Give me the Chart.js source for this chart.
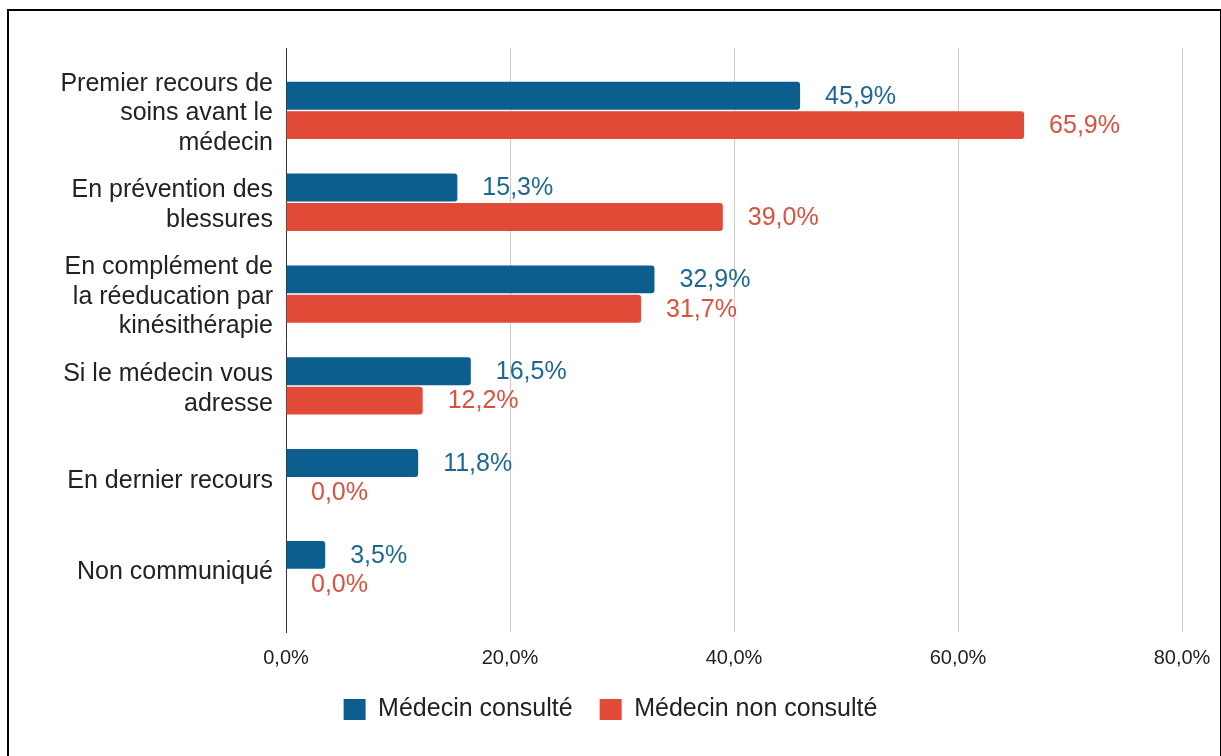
<!DOCTYPE html>
<html>
<head>
<meta charset="utf-8">
<script src="https://cdn.jsdelivr.net/npm/chart.js@4.4.1/dist/chart.umd.min.js"></script>
<style>
  html, body { margin: 0; padding: 0; background: #fff; }
  #wrap { position: relative; width: 1221px; height: 756px; overflow: hidden; }
  #frame { position: absolute; left: 7px; top: 9px; width: 1211px; height: 800px; border: 2px solid #000; }
  canvas { position: absolute; left: 0; top: 0; }
</style>
</head>
<body>
<div id="wrap">
  <div id="frame"></div>
  <canvas id="chart" width="1221" height="756"></canvas>
</div>
<script>
// ── Data ──────────────────────────────────────────────
const categories = [
    ['Premier recours de', 'soins avant le', 'médecin'],
    ['En prévention des', 'blessures'],
    ['En complément de', 'la réeducation par', 'kinésithérapie'],
    ['Si le médecin vous', 'adresse'],
    'En dernier recours',
    'Non communiqué'
];
const seriesNames = ['Médecin consulté', 'Médecin non consulté'];
const consulte    = [45.9, 15.3, 32.9, 16.5, 11.8, 3.5];
const nonConsulte = [65.9, 39.0, 31.7, 12.2, 0.0, 0.0];
const xTicks = [0, 20, 40, 60, 80];

const BLUE = '#0b5e8e', RED = '#e14a37';
const BLUE_TXT = '#1c6893', RED_TXT = '#d9513f';
const FONT = '"Liberation Sans", Arial, sans-serif';

const pct = v => v.toFixed(1).replace('.', ',') + '%';

// value labels drawn right of each bar end
const barLabels = {
    id: 'barLabels',
    afterDatasetsDraw(chart) {
        const ctx = chart.ctx;
        ctx.save();
        ctx.font = '25px ' + FONT;
        ctx.textBaseline = 'middle';
        ctx.textAlign = 'left';
        chart.data.datasets.forEach((ds, i) => {
            const meta = chart.getDatasetMeta(i);
            ctx.fillStyle = ds.labelColor;
            meta.data.forEach((bar, j) => {
                ctx.fillText(pct(ds.data[j]), bar.x + 25, bar.y + 1);
            });
        });
        ctx.restore();
    }
};

new Chart(document.getElementById('chart'), {
    type: 'bar',
    data: {
        labels: categories,
        datasets: [
            { label: seriesNames[0], data: consulte, backgroundColor: BLUE, labelColor: BLUE_TXT,
              borderWidth: 0, borderRadius: 3, barPercentage: 0.95, categoryPercentage: 0.64 },
            { label: seriesNames[1], data: nonConsulte, backgroundColor: RED, labelColor: RED_TXT,
              borderWidth: 0, borderRadius: 3, barPercentage: 0.95, categoryPercentage: 0.64 }
        ]
    },
    options: {
        indexAxis: 'y',
        responsive: false,
        animation: false,
        layout: { padding: { top: 48, right: 0, bottom: 24, left: 0 } },
        plugins: {
            legend: {
                position: 'bottom',
                labels: { font: { family: FONT, size: 25 }, color: '#222', boxWidth: 22, boxHeight: 21, padding: 27 }
            },
            tooltip: { enabled: false }
        },
        scales: {
            x: {
                min: 0, max: 80,
                afterBuildTicks(scale) { scale.ticks = xTicks.map(v => ({ value: v })); },
                afterFit(scale) { scale.height = 38; scale.paddingRight = 39; },
                ticks: { callback: v => pct(v), font: { family: FONT, size: 20 }, color: '#222', padding: 14 },
                grid: { color: '#cccccc', lineWidth: 1, drawTicks: false },
                border: { display: false }
            },
            y: {
                // stretch the category bands a little inside the plot, like the source
                afterBuildTicks(scale) { scale._startValue = -0.68; scale._valueRange = 6.36; },
                afterFit(scale) { scale.width = 286; },
                ticks: { font: { family: FONT, size: 25, lineHeight: 1.18 }, color: '#222', padding: 13, labelOffset: 3 },
                grid: { display: false, drawTicks: false },
                border: { display: true, color: '#333', width: 1 }
            }
        }
    },
    plugins: [barLabels]
});
</script>
</body>
</html>
